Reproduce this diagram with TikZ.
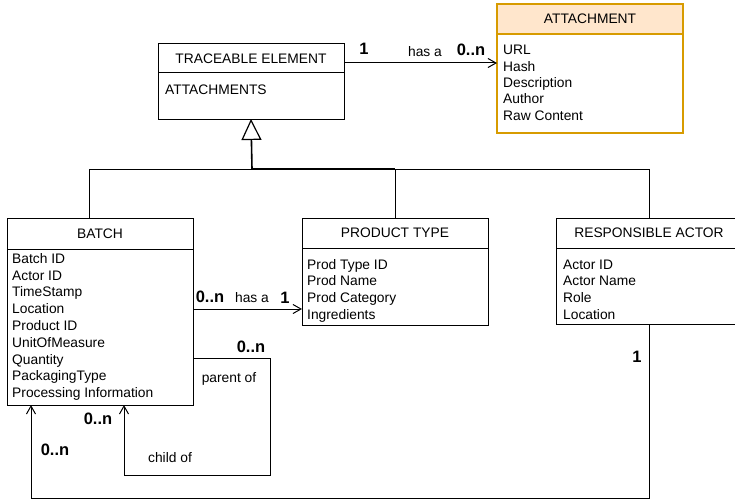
\documentclass[tikz,border=0pt]{standalone}
\usepackage{fontspec}
\setmainfont{Liberation Sans}
\usetikzlibrary{arrows.meta}
\definecolor{attline}{HTML}{D79B00}
\definecolor{attfill}{HTML}{FFE6CC}
\tikzset{
  classbody/.style={draw=black, line width=1pt, fill=white, inner sep=0pt, outer sep=0pt,
                    anchor=north west, minimum width=186pt},
  classhead/.style={classbody, font=\fontsize{13.8}{16}\selectfont},
  attr/.style={inner sep=0pt, anchor=base west, font=\fontsize{13.8}{16}\selectfont},
  mult/.style={inner sep=0pt, anchor=base, font=\fontsize{16.5}{19}\selectfont\bfseries},
  role/.style={inner sep=0pt, anchor=base, font=\fontsize{13.8}{16}\selectfont},
  link/.style={draw=black, line width=1pt},
  assoc/.style={link, -{Straight Barb[length=8pt,width=9pt]}},
  inherit/.style={link, line width=1.6pt, -{Triangle[length=21pt,width=20pt,fill=white,line width=1.2pt]}},
}
% attribute list: name prefix, x, first baseline, line step, entries
\newcommand\attrlist[5]{%
  \foreach \t [count=\i] in {#5} {
    \node[attr] (#1\i) at (#2, {#3+#4*(\i-1)}) {\t};
  }%
}
\begin{document}
\begin{tikzpicture}[x=1pt,y=-1pt]
\useasboundingbox (0,0) rectangle (735,500);

% TRACEABLE ELEMENT
\node[classbody, minimum height=75pt] (te) at (158,44) {};
\node[classhead, minimum height=29pt] (teh) at (158,44) {TRACEABLE ELEMENT};
\node[attr] (te1) at (165,95) {ATTACHMENTS};

% ATTACHMENT
\node[classbody, draw=attline, line width=1.3pt, minimum height=129pt] (att) at (497,4) {};
\node[classhead, draw=attline, line width=1.3pt, fill=attfill, minimum height=30pt] (atth) at (497,4) {ATTACHMENT};
\attrlist{att}{503}{55}{16.3}{URL,Hash,Description,Author,Raw Content}

% BATCH
\node[classbody, minimum height=187pt] (batch) at (7,218) {};
\node[classhead, minimum height=31pt] (batchh) at (7,218) {BATCH};
\attrlist{b}{12}{263.3}{16.8}{Batch ID,Actor ID,TimeStamp,Location,Product ID,UnitOfMeasure,Quantity,PackagingType,Processing Information}

% PRODUCT TYPE
\node[classbody, minimum height=107pt] (pt) at (302,218) {};
\node[classhead, minimum height=30pt] (pth) at (302,218) {PRODUCT TYPE};
\attrlist{p}{307}{269}{16.7}{Prod Type ID,Prod Name,Prod Category,Ingredients}

% RESPONSIBLE ACTOR
\node[classbody, minimum height=106pt] (ra) at (556,218) {};
\node[classhead, minimum height=30pt] (rah) at (556,218) {RESPONSIBLE ACTOR};
\attrlist{r}{563}{269}{16.7}{Actor ID,Actor Name,Role,Location}

% generalisation (overlapping branches give the heavier middle segment)
\coordinate (junc) at (252,169);
\draw[link] ([xshift=-11pt]batch.north) |- (junc);
\draw[link] (ra.north) |- (junc);
\draw[link] (pt.north) |- (junc);
\draw[link, line width=1.6pt] (pt.north |- junc) -- (junc);
\draw[inherit] (junc) -- (te.south);

% traceable element has attachments
\coordinate (teout) at ([yshift=-19pt]te.north east);
\draw[assoc] (teout) -- (teout -| att.west);
\node[mult] (m1) at (364,55) {1};
\node[role] (r1) at (425,57) {has a};
\node[mult] (m2) at (471,56) {0..n};

% batch has a product type
\coordinate (bout) at ([yshift=-91pt]batch.north east);
\draw[assoc] (bout) -- (bout -| pt.west);
\node[mult] (m3) at (210,302) {0..n};
\node[role] (r2) at (252,302) {has a};
\node[mult] (m4) at (285,303) {1};

% batch parent / child
\coordinate (pout) at ([yshift=-140pt]batch.north east);
\coordinate (cin) at ([xshift=117pt]batch.south west);
\draw[assoc] (pout) -- (270,358) -- (270,475) -- (124,475) -- (cin);
\node[mult] (m5) at (251,352) {0..n};
\node[role] (r3) at (229,382) {parent of};
\node[mult] (m6) at (98,424) {0..n};
\node[role] (r4) at (170,462) {child of};

% responsible actor of batches
\coordinate (ain) at ([xshift=24pt]batch.south west);
\draw[assoc] (ra.south) -- (649,498) -- (31,498) -- (ain);
\node[mult] (m7) at (637,362) {1};
\node[mult] (m8) at (55,455) {0..n};
\end{tikzpicture}
\end{document}
